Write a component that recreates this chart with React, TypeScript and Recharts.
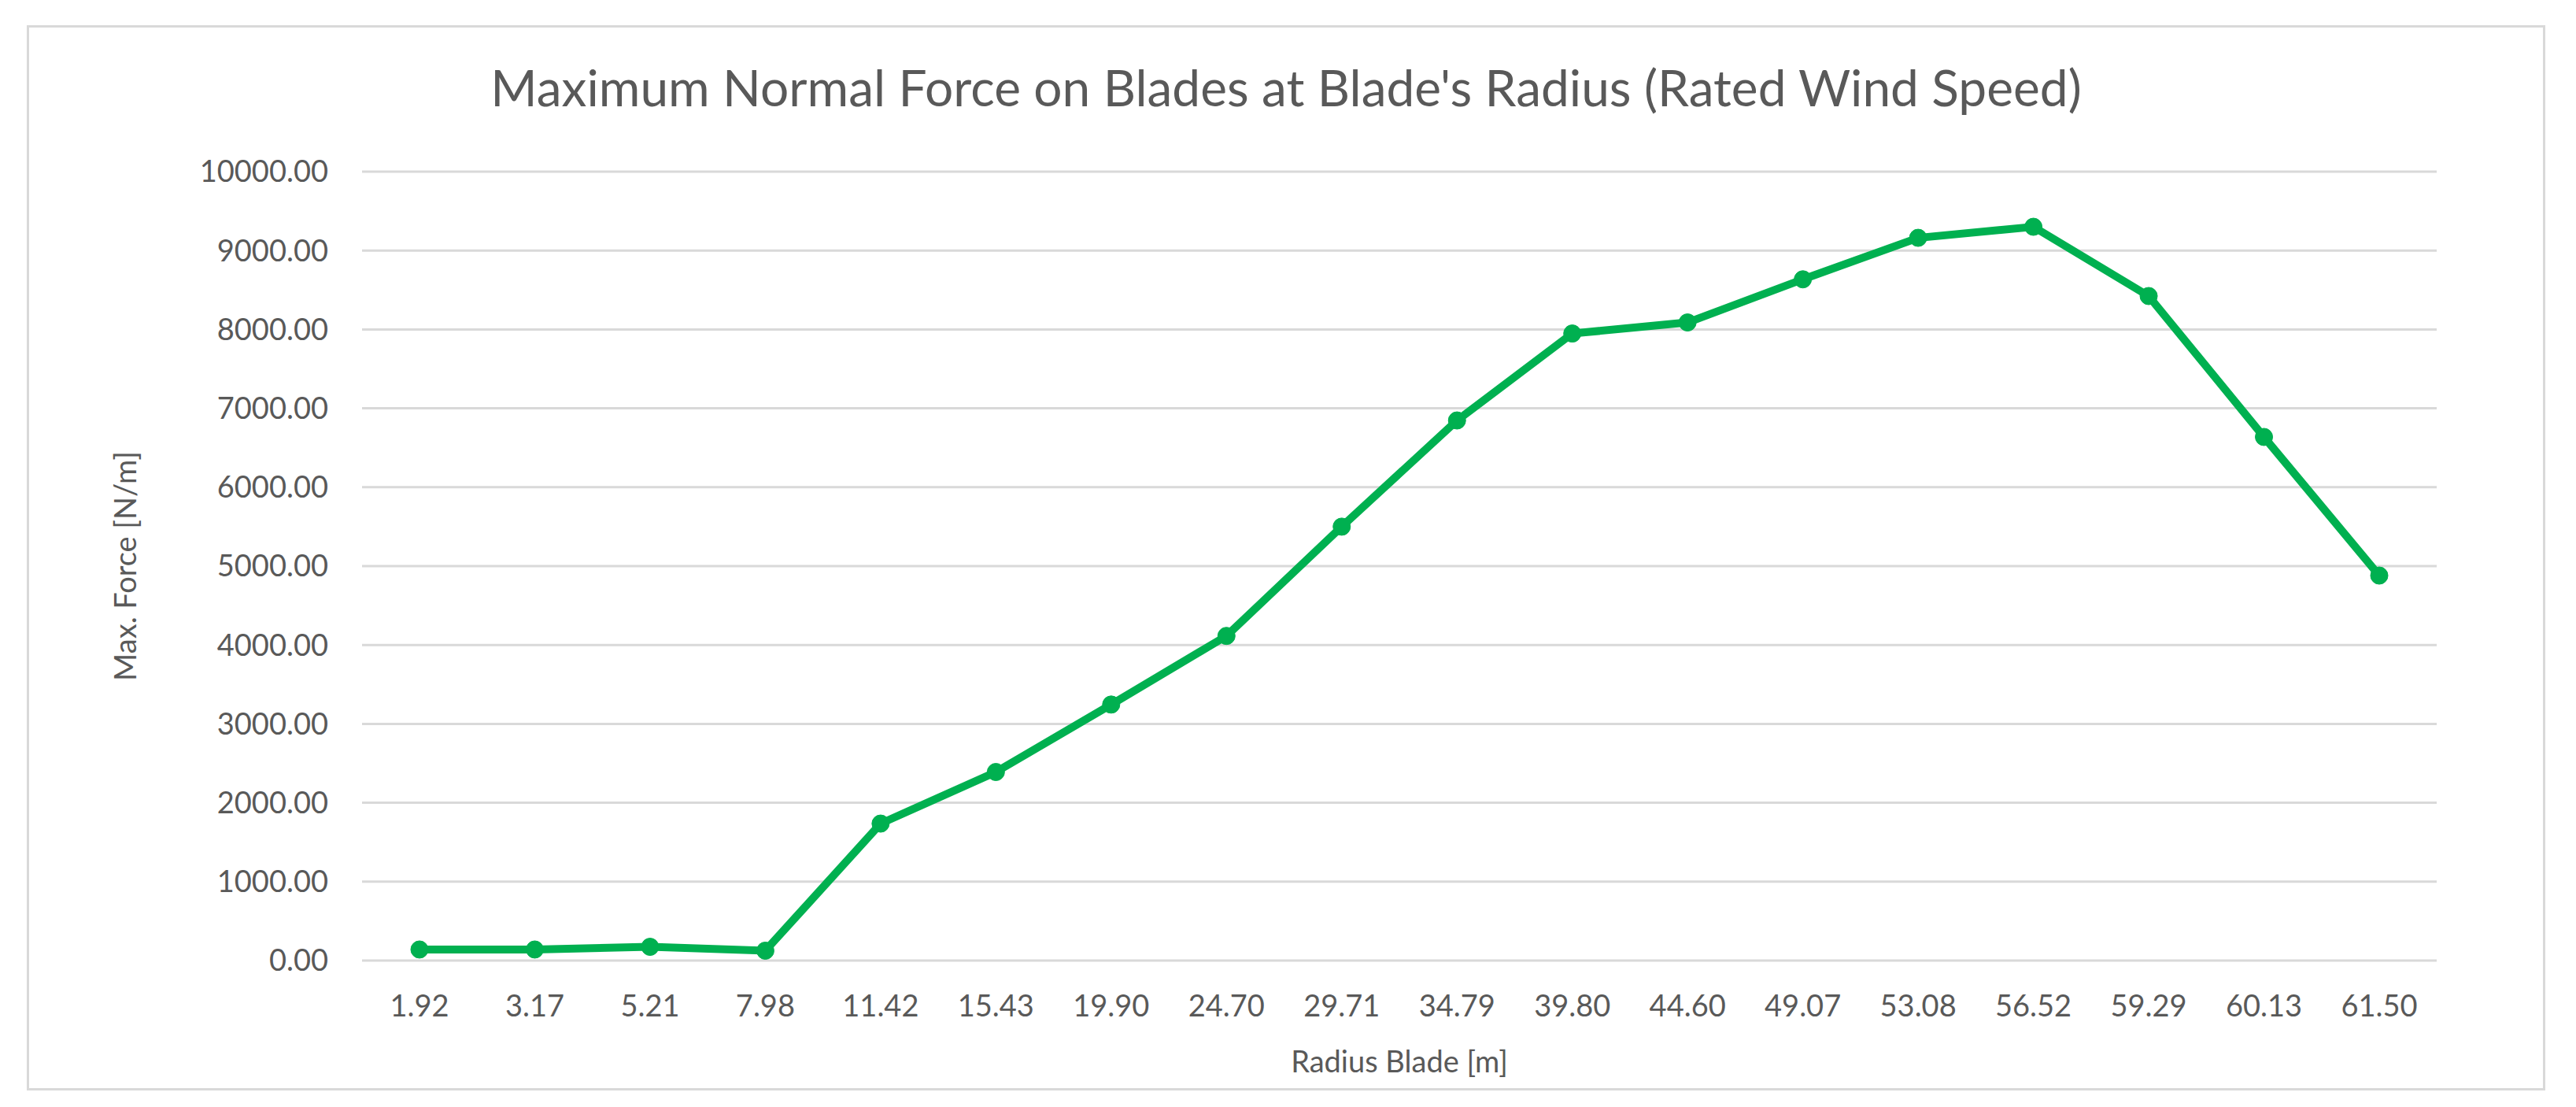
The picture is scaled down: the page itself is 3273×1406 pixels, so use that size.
import { CartesianGrid, Line, LineChart, XAxis, YAxis } from "recharts";

const radius = [
  "1.92", "3.17", "5.21", "7.98", "11.42", "15.43", "19.90", "24.70", "29.71",
  "34.79", "39.80", "44.60", "49.07", "53.08", "56.52", "59.29", "60.13", "61.50",
];
const maxForce = [
  140, 140, 174, 125, 1736, 2390, 3245, 4115, 5500,
  6846, 7948, 8088, 8635, 9161, 9301, 8423, 6637, 4880,
];
const yTicks = [0, 1000, 2000, 3000, 4000, 5000, 6000, 7000, 8000, 9000, 10000];

const FONT = "Lato, 'Noto Sans', sans-serif";
const TEXT = "#595959";
const GREEN = "#00B050";

export default function App() {
  // one row per blade station
  const data = radius.map((r, i) => ({ name: r, force: maxForce[i] }));

  return (
    <div style={{ position: "absolute", left: 0, top: 0, width: 3273, height: 1406, background: "#fff", fontFamily: FONT }}>
      <div
        style={{
          position: "absolute",
          left: 34,
          top: 32,
          width: 3200,
          height: 1353,
          border: "3px solid #d9d9d9",
          boxSizing: "border-box",
        }}
      />
      <div
        style={{
          position: "absolute",
          left: 34,
          width: 3200,
          top: 74,
          textAlign: "center",
          fontSize: 64,
          color: TEXT,
          lineHeight: "74px",
        }}
      >
        Maximum Normal Force on Blades at Blade's Radius (Rated Wind Speed)
      </div>
      <div style={{ position: "absolute", left: 0, top: 0 }}>
        <LineChart
          width={3273}
          height={1406}
          data={data}
          margin={{ top: 218, right: 177, left: 160, bottom: 44 }}
        >
          <CartesianGrid vertical={false} stroke="#d9d9d9" strokeWidth={3} />
          <XAxis
            dataKey="name"
            padding={{ left: 73, right: 73 }}
            axisLine={false}
            tickLine={false}
            tickSize={0}
            tickMargin={44}
            height={142}
            interval={0}
            tick={{ fill: TEXT, fontSize: 38, fontFamily: FONT }}
            label={{
              value: "Radius Blade [m]",
              position: "insideBottom",
              offset: 0,
              fill: TEXT,
              fontSize: 38,
              fontFamily: FONT,
            }}
          />
          <YAxis
            width={300}
            domain={[0, 10000]}
            ticks={yTicks}
            interval={0}
            axisLine={false}
            tickLine={false}
            tickSize={0}
            tickMargin={43}
            tickFormatter={(v: number) => v.toFixed(2)}
            tick={{ fill: TEXT, fontSize: 38, fontFamily: FONT }}
            label={{
              value: "Max. Force [N/m]",
              angle: -90,
              position: "insideLeft",
              offset: 0,
              fill: TEXT,
              fontSize: 38,
              fontFamily: FONT,
              style: { textAnchor: "middle" },
            }}
          />
          <Line
            type="linear"
            dataKey="force"
            stroke={GREEN}
            strokeWidth={10}
            dot={{ r: 11, fill: GREEN, stroke: GREEN, strokeWidth: 1 }}
            activeDot={false}
            isAnimationActive={false}
          />
        </LineChart>
      </div>
    </div>
  );
}
